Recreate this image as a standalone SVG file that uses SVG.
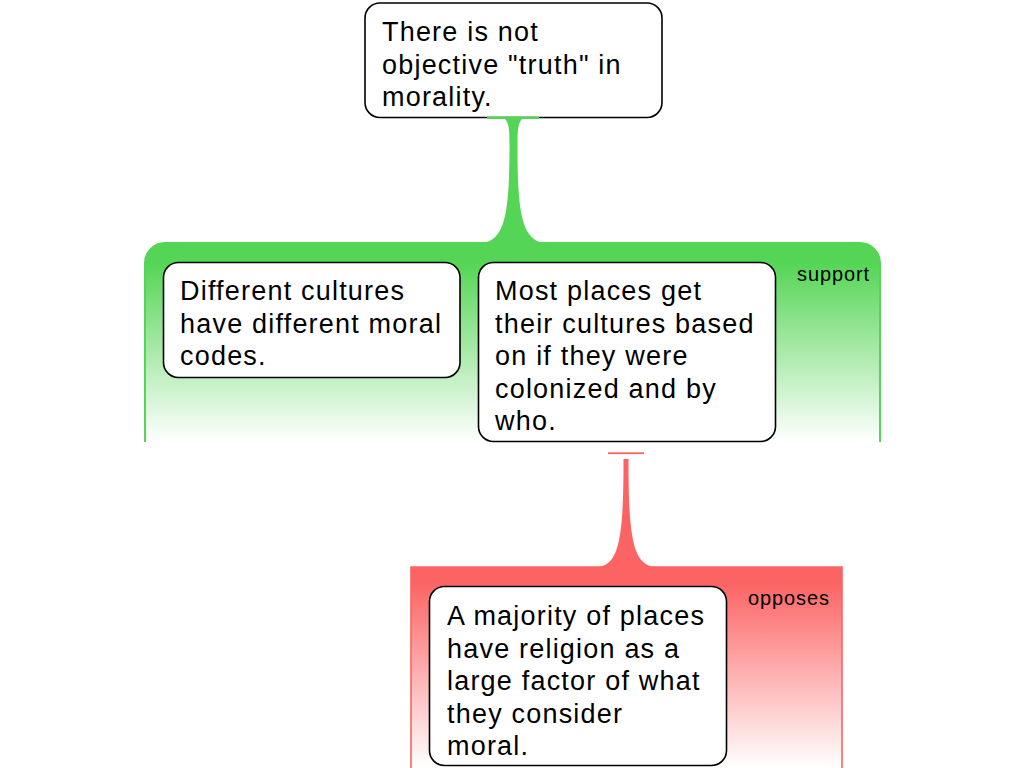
<svg xmlns="http://www.w3.org/2000/svg" width="1024" height="768" viewBox="0 0 1024 768">
<style>
.node{fill:#fff;stroke:#000;stroke-width:1.6}
.t{font-family:"Liberation Sans",Arial,sans-serif;font-size:27px;letter-spacing:1.2px;fill:#000}
.lbl{font-family:"Liberation Sans",Arial,sans-serif;font-size:20px;letter-spacing:0.9px;fill:#000}
.gfill{fill:#55d555}
.rfill{fill:#fc6464}
</style>
<defs>
<linearGradient id="gg" x1="0" y1="243" x2="0" y2="442" gradientUnits="userSpaceOnUse">
<stop offset="0" stop-color="#55d555"/>
<stop offset="0.1" stop-color="#55d555"/>
<stop offset="1" stop-color="#55d555" stop-opacity="0"/>
</linearGradient>
<linearGradient id="rg" x1="0" y1="567" x2="0" y2="768" gradientUnits="userSpaceOnUse">
<stop offset="0" stop-color="#fc6464"/>
<stop offset="0.08" stop-color="#fc6464"/>
<stop offset="1" stop-color="#fc6464" stop-opacity="0"/>
</linearGradient>
</defs>
<g id="connectors">
<g id="support-group">
<path d="M145,442 V263 A20,20 0 0 1 165,243 H860 A20,20 0 0 1 880,263 V442" fill="url(#gg)" stroke="#55d555" stroke-width="2"/>
<path class="gfill" d="M505,119 H522 C518,123 517.5,130 517.5,145 C517.5,215 522,243 548,243 H479 C505,243 509.5,215 509.5,145 C509.5,130 509,123 505,119 Z"/>
<text class="lbl" x="797" y="281">support</text>
</g>
<g id="oppose-group">
<path d="M411,768 V567 H842 V768" fill="url(#rg)" stroke="#fc6464" stroke-width="1.6"/>
<rect class="rfill" x="608" y="452.3" width="36" height="1.8"/>
<path class="rfill" d="M623.5,459 H628.5 C628.5,535 632,567 657,567 H596 C620,567 623.5,535 623.5,459 Z"/>
<text class="lbl" x="748" y="605">opposes</text>
</g>
</g>
<g id="node-root">
<rect class="node" x="365" y="3" width="297" height="114.5" rx="15"/>
<text class="t" x="382" y="41">There is not</text>
<text class="t" x="382" y="73.5">objective "truth" in</text>
<text class="t" x="382" y="106">morality.</text>
</g>
<g id="node-cultures">
<rect class="node" x="163.5" y="262.5" width="296.5" height="115" rx="15"/>
<text class="t" x="180" y="300">Different cultures</text>
<text class="t" x="180" y="332.5">have different moral</text>
<text class="t" x="180" y="365">codes.</text>
</g>
<g id="node-colonized">
<rect class="node" x="478.5" y="262.5" width="297" height="179" rx="15"/>
<text class="t" x="495" y="300">Most places get</text>
<text class="t" x="495" y="332.5">their cultures based</text>
<text class="t" x="495" y="365">on if they were</text>
<text class="t" x="495" y="397.5">colonized and by</text>
<text class="t" x="495" y="430">who.</text>
</g>
<g id="node-religion">
<rect class="node" x="429.5" y="586.5" width="297" height="179" rx="15"/>
<text class="t" x="447" y="625">A majority of places</text>
<text class="t" x="447" y="657.5">have religion as a</text>
<text class="t" x="447" y="690">large factor of what</text>
<text class="t" x="447" y="722.5">they consider</text>
<text class="t" x="447" y="755">moral.</text>
</g>
<g id="connector-ends">
<rect class="gfill" x="487" y="116.5" width="52" height="2.5"/>
</g>
</svg>
